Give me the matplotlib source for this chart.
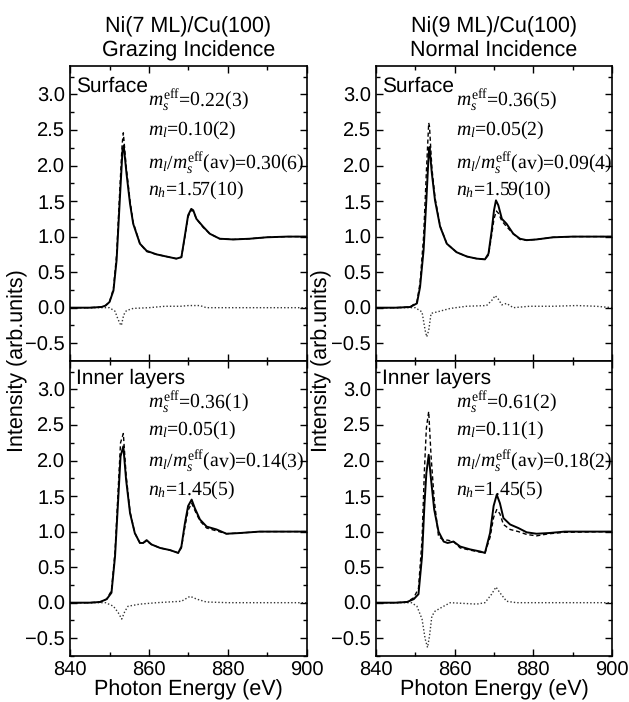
import matplotlib
matplotlib.use('Agg')
import matplotlib.pyplot as plt
from matplotlib.ticker import MultipleLocator

plt.rcParams['font.family'] = 'Liberation Sans'
plt.rcParams['mathtext.fontset'] = 'custom'
plt.rcParams['mathtext.rm'] = 'Liberation Serif'
plt.rcParams['mathtext.it'] = 'Liberation Serif:italic'
plt.rcParams['text.hinting'] = 'no_hinting'

# Ni(7 ML) grazing, surface (top left)
tl_e_solid = [840, 845, 848, 849, 850, 851, 851.8, 852.6, 853.3, 853.6, 854.3, 855.2, 856, 857.7, 859.4, 861.9,
              864.4, 866.9, 868.2, 869.1, 869.9, 870.7, 871.2, 872, 873.7, 875.4, 877.9, 881.3, 885.5, 889.7, 895, 900]
tl_solid = [0, 0, 0.01, 0.03, 0.08, 0.24, 0.67, 1.51, 2.22, 2.28, 1.89, 1.46, 1.18, 0.9, 0.8, 0.75,
            0.72, 0.69, 0.71, 1.02, 1.3, 1.39, 1.37, 1.25, 1.14, 1.04, 0.97, 0.96, 0.97, 0.99, 1.0, 1.0]
tl_e_dash = [840, 845, 848, 849, 850, 851, 851.8, 852.6, 853.2, 853.5, 854.2, 855.2, 856, 857.7, 859.4, 861.9,
             864.4, 866.9, 868.2, 869.1, 869.9, 870.7, 871.2, 872, 873.7, 875.4, 877.9, 881.3, 885.5, 889.7, 895, 900]
tl_dash = [0, 0, 0.01, 0.03, 0.08, 0.27, 0.75, 1.65, 2.3, 2.46, 2.0, 1.5, 1.2, 0.9, 0.79, 0.75,
           0.72, 0.69, 0.71, 1.0, 1.28, 1.37, 1.36, 1.25, 1.13, 1.04, 0.97, 0.96, 0.97, 0.99, 1.0, 1.0]
tl_e_diff = [840, 850, 851.4, 852, 852.6, 853, 853.6, 854.3, 856, 860, 864, 868, 870, 872.9, 874.5, 880, 890, 900]
tl_diff = [0, 0, -0.05, -0.14, -0.22, -0.25, -0.1, -0.04, -0.01, 0.0, 0.02, 0.02, 0.03, 0.03, 0.0, 0.0, 0.0, 0.0]

# Ni(9 ML) normal, surface (top right)
tr_e_solid = [840, 845, 848.7, 850.4, 851.2, 852.1, 852.8, 853.4, 853.6, 854.2, 855, 856.3, 858, 860.5, 863.1,
              865.6, 867.7, 868.6, 869.4, 870, 870.5, 871.1, 872, 873.2, 874.9, 876.6, 878.3, 880.8, 885, 890, 900]
tr_solid = [0, 0, 0.01, 0.06, 0.29, 0.81, 1.51, 2.17, 2.26, 1.89, 1.51, 1.14, 0.9, 0.78, 0.72,
            0.69, 0.68, 0.76, 1.08, 1.37, 1.51, 1.44, 1.25, 1.18, 1.04, 0.97, 0.95, 0.96, 0.99, 1.0, 1.0]
tr_e_dash = [840, 845, 848.7, 850.4, 851.2, 852.1, 852.8, 853.4, 853.6, 854.2, 855, 856.3, 858, 860.5, 863.1,
             865.6, 867.7, 868.6, 869.4, 870, 870.6, 871.1, 872, 873.2, 874.9, 876.6, 878.3, 880.8, 885, 890, 900]
tr_dash = [0, 0, 0.01, 0.08, 0.35, 1.0, 1.9, 2.6, 2.55, 1.97, 1.55, 1.15, 0.9, 0.78, 0.72,
           0.69, 0.68, 0.74, 1.02, 1.25, 1.36, 1.33, 1.22, 1.14, 1.04, 0.96, 0.95, 0.96, 0.99, 1.0, 1.0]
tr_e_diff = [840, 850, 851.7, 852.5, 852.9, 853.4, 854, 855.5, 858.9, 863, 868.1, 869.4, 870.3, 871.1, 872,
             873.2, 874.9, 879, 885, 891, 896, 900]
tr_diff = [0, 0, -0.06, -0.32, -0.41, -0.32, -0.08, -0.06, -0.01, 0.02, 0.03, 0.1, 0.17, 0.12, 0.04,
           0.06, 0.0, 0.02, 0.02, 0.03, 0.02, 0.0]

# Ni(7 ML) grazing, inner layers (bottom left)
bl_e_solid = [840, 845, 847.6, 849.3, 850.5, 851.4, 852.2, 852.8, 853.5, 854.2, 855.2, 856.4, 857.7, 858.5, 859.4,
              860.6, 862.8, 865.3, 867.4, 868.2, 869.1, 869.9, 870.8, 871.6, 872.9, 874.6, 877.1, 879.6, 883, 888, 900]
bl_solid = [0, 0, 0.01, 0.05, 0.14, 0.65, 1.45, 2.06, 2.2, 1.73, 1.26, 0.98, 0.84, 0.84, 0.88,
            0.82, 0.77, 0.74, 0.7, 0.79, 1.12, 1.36, 1.45, 1.33, 1.17, 1.07, 1.03, 0.97, 0.98, 1.0, 1.0]
bl_e_dash = bl_e_solid
bl_dash = [0, 0, 0.01, 0.05, 0.17, 0.72, 1.6, 2.25, 2.38, 1.8, 1.28, 0.98, 0.84, 0.84, 0.87,
           0.82, 0.77, 0.74, 0.7, 0.77, 1.07, 1.3, 1.4, 1.3, 1.15, 1.05, 1.01, 0.97, 0.98, 1.0, 1.0]
bl_e_diff = [840, 849, 851, 852.2, 853.1, 853.9, 854.7, 857.7, 862, 868.2, 870.4, 872.1, 874.5, 880, 890, 900]
bl_diff = [0, 0, -0.05, -0.14, -0.23, -0.12, -0.05, -0.02, 0.0, 0.02, 0.09, 0.05, 0.01, 0.0, 0.0, 0.0]

# Ni(9 ML) normal, inner layers (bottom right)
br_e_solid = [840, 845, 847.9, 849.6, 850.8, 851.7, 852.3, 852.8, 853.4, 854, 854.8, 855.9, 857.2, 858.2, 859.7,
              861.4, 863.9, 866.5, 867.7, 869, 869.9, 870.7, 871.5, 872.4, 874.1, 876.2, 878.3, 880.8, 884, 888, 900]
br_solid = [0, 0, 0.01, 0.05, 0.12, 0.65, 1.36, 1.82, 2.08, 1.73, 1.31, 1.0, 0.86, 0.84, 0.86,
            0.79, 0.75, 0.72, 0.7, 0.98, 1.36, 1.52, 1.4, 1.19, 1.1, 1.05, 0.99, 0.97, 0.98, 1.0, 1.0]
br_e_dash = br_e_solid
br_dash = [0, 0, 0.01, 0.07, 0.2, 0.88, 1.85, 2.45, 2.69, 2.06, 1.45, 0.93, 0.88, 0.88, 0.86,
           0.77, 0.74, 0.71, 0.7, 0.92, 1.2, 1.31, 1.25, 1.1, 1.03, 1.0, 0.96, 0.94, 0.97, 0.99, 1.0]
br_e_diff = [840, 849, 850.4, 851.7, 852.5, 853.1, 853.6, 854.2, 855, 857.2, 858.9, 865.6, 867.7, 869.4, 870.5,
             871.5, 873.2, 875.7, 885, 900]
br_diff = [0, 0, -0.05, -0.23, -0.51, -0.63, -0.47, -0.19, -0.12, -0.05, 0.0, -0.02, 0.0, 0.12, 0.22,
           0.14, 0.02, 0.0, 0.0, 0.0]

titles = ['Ni(7 ML)/Cu(100)\nGrazing Incidence', 'Ni(9 ML)/Cu(100)\nNormal Incidence']
panel_names = ['Surface', 'Inner layers']
ann_tl = [r'$m_s^{\rm eff}$=0.22(3)', r'$m_l$=0.10(2)', r'$m_l/m_s^{\rm eff}$(av)=0.30(6)', r'$n_h$=1.57(10)']
ann_tr = [r'$m_s^{\rm eff}$=0.36(5)', r'$m_l$=0.05(2)', r'$m_l/m_s^{\rm eff}$(av)=0.09(4)', r'$n_h$=1.59(10)']
ann_bl = [r'$m_s^{\rm eff}$=0.36(1)', r'$m_l$=0.05(1)', r'$m_l/m_s^{\rm eff}$(av)=0.14(3)', r'$n_h$=1.45(5)']
ann_br = [r'$m_s^{\rm eff}$=0.61(2)', r'$m_l$=0.11(1)', r'$m_l/m_s^{\rm eff}$(av)=0.18(2)', r'$n_h$=1.45(5)']
# baseline heights of the four annotation lines (data units)
ann_y_top = [2.83, 2.42, 1.95, 1.57]
ann_y_bottom = [2.74, 2.35, 1.91, 1.51]

fig = plt.figure(figsize=(6.29, 7.02), dpi=100)
W, H = 629, 702


def add_ax(left, top, right, bottom):
    return fig.add_axes([left / W, 1 - bottom / H, (right - left) / W, (bottom - top) / H])


ax_tl = add_ax(70, 66, 307, 361)
ax_tr = add_ax(376, 66, 612, 361)
ax_bl = add_ax(70, 361, 307, 656)
ax_br = add_ax(376, 361, 612, 656)

panels = [
    (ax_tl, tl_e_solid, tl_solid, tl_e_dash, tl_dash, tl_e_diff, tl_diff, ann_tl, ann_y_top, panel_names[0], 0.33, 0.912),
    (ax_tr, tr_e_solid, tr_solid, tr_e_dash, tr_dash, tr_e_diff, tr_diff, ann_tr, ann_y_top, panel_names[0], 0.34, 0.912),
    (ax_bl, bl_e_solid, bl_solid, bl_e_dash, bl_dash, bl_e_diff, bl_diff, ann_bl, ann_y_bottom, panel_names[1], 0.33, 0.922),
    (ax_br, br_e_solid, br_solid, br_e_dash, br_dash, br_e_diff, br_diff, ann_br, ann_y_bottom, panel_names[1], 0.34, 0.922),
]

for ax, es, ys, ed, yd, ef, yf, ann, ann_y, name, ax_x, name_y in panels:
    ax.plot(ef, yf, color='#333333', lw=1.0, linestyle=(0, (1, 1.5)))
    ax.plot(ed, yd, color='black', lw=1.0, linestyle=(0, (3, 2)))
    ax.plot(es, ys, color='black', lw=1.4)
    ax.set_xlim(840, 900)
    ax.set_ylim(-0.75, 3.4)
    ax.xaxis.set_major_locator(MultipleLocator(20))
    ax.xaxis.set_minor_locator(MultipleLocator(10))
    ax.yaxis.set_major_locator(MultipleLocator(0.5))
    ax.yaxis.set_minor_locator(MultipleLocator(0.25))
    ax.tick_params(which='both', direction='in', top=True, right=True, labelsize=14.5)
    ax.tick_params(which='major', length=5, width=1)
    ax.tick_params(which='minor', length=3, width=1)
    for sp in ax.spines.values():
        sp.set_linewidth(1.2)
    ax.text(0.025, name_y, name, transform=ax.transAxes, fontsize=15, ha='left', va='baseline')
    for txt, yy in zip(ann, ann_y):
        ax.text(ax_x, yy, txt, transform=ax.get_yaxis_transform(), fontsize=14.2, ha='left', va='baseline',
                family='Liberation Serif')

for ax in (ax_tl, ax_tr):
    ax.tick_params(labelbottom=False)

for ax in (ax_bl, ax_br):
    ax.set_xticks([840, 860, 880, 900])
    ax.set_xticklabels(['840', '860', '880', '900'])

# column titles and axis labels
fig.text(188.5 / W, 1 - 39 / H, titles[0], ha='center', va='center', fontsize=15.5, linespacing=1.25)
fig.text(494 / W, 1 - 39 / H, titles[1], ha='center', va='center', fontsize=15.5, linespacing=1.25)
fig.text(188.5 / W, 1 - 690 / H, 'Photon Energy (eV)', ha='center', va='center', fontsize=15.5)
fig.text(494 / W, 1 - 690 / H, 'Photon Energy (eV)', ha='center', va='center', fontsize=15.5)
fig.text(18 / W, 1 - 361 / H, 'Intensity (arb.units)', ha='center', va='center', rotation=90, fontsize=15.5)
fig.text(322 / W, 1 - 361 / H, 'Intensity (arb.units)', ha='center', va='center', rotation=90, fontsize=15.5)

fig.savefig('out.png', dpi=100)
